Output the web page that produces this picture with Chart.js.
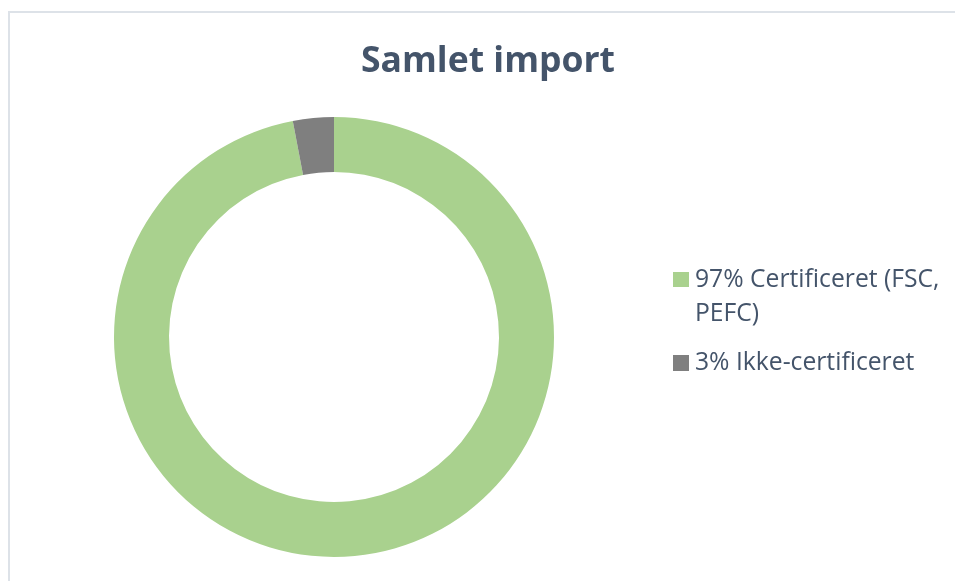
<!DOCTYPE html>
<html>
<head>
<meta charset="utf-8">
<script src="https://cdn.jsdelivr.net/npm/chart.js@4/dist/chart.umd.min.js"></script>
<style>
  html, body { margin: 0; padding: 0; background: #fff; width: 955px; height: 581px; overflow: hidden; }
  #frame { position: absolute; left: 8px; top: 11px; width: 980px; height: 600px; border: 2px solid #DDE2E8; box-sizing: border-box; }
  #wrap { position: absolute; left: 0; top: 0; width: 955px; height: 581px; }
  #title { position: absolute; left: 0; width: 976px; top: 34px; text-align: center; font-family: "Open Sans", sans-serif; font-weight: 700; font-size: 35.5px; color: #44546A; white-space: nowrap; }
  #legend { position: absolute; left: 673px; top: 260.5px; font-family: "Open Sans", sans-serif; font-size: 24.7px; color: #44546A; line-height: 34.4px; }
  .item { position: relative; padding-left: 22px; width: 255px; margin-bottom: 14.6px; }
  .sw { position: absolute; left: 0; top: 11.3px; width: 16px; height: 15.5px; }
</style>
</head>
<body>
<div id="frame"></div>
<div id="wrap"><canvas id="c" width="955" height="581"></canvas></div>
<div id="title"></div>
<div id="legend"></div>
<script>
const chartTitle = "Samlet import";
const categories = ["Certificeret (FSC, PEFC)", "Ikke-certificeret"];
const values = [97, 3];
const legendLabels = ["97% Certificeret (FSC, PEFC)", "3% Ikke-certificeret"];
const colors = ["#A9D18E", "#7F7F7F"];

document.getElementById("title").textContent = chartTitle;
const leg = document.getElementById("legend");
legendLabels.forEach((t, i) => {
  const d = document.createElement("div");
  d.className = "item";
  const s = document.createElement("span");
  s.className = "sw";
  s.style.background = colors[i];
  d.appendChild(s);
  d.appendChild(document.createTextNode(t));
  leg.appendChild(d);
});

new Chart(document.getElementById("c"), {
  type: "doughnut",
  data: {
    labels: categories,
    datasets: [{ data: values, backgroundColor: colors, borderWidth: 0, hoverOffset: 0 }]
  },
  options: {
    responsive: false,
    animation: false,
    cutout: "75%",
    layout: { padding: { left: 114, right: 401, top: 117, bottom: 24 } },
    plugins: { legend: { display: false }, tooltip: { enabled: false }, title: { display: false } }
  }
});
</script>
</body>
</html>
